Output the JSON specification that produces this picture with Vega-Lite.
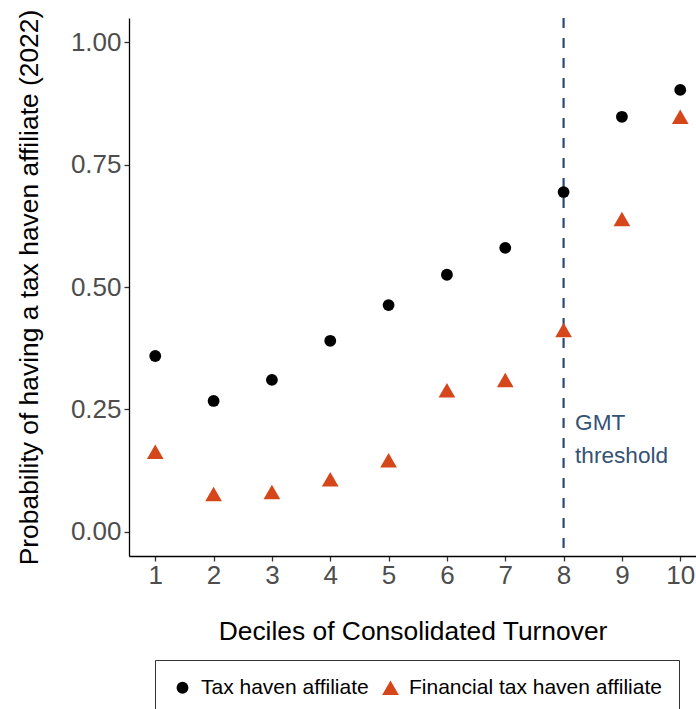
{
  "$schema": "https://vega.github.io/schema/vega-lite/v6.json",
  "autosize": "none",
  "width": 567,
  "height": 538,
  "padding": {"left": 129, "top": 18, "right": 0, "bottom": 153},
  "background": "white",
  "datasets": {
    "pts": [
      {"decile": 1, "prob": 0.359, "series": "Tax haven affiliate"},
      {"decile": 2, "prob": 0.267, "series": "Tax haven affiliate"},
      {"decile": 3, "prob": 0.310, "series": "Tax haven affiliate"},
      {"decile": 4, "prob": 0.390, "series": "Tax haven affiliate"},
      {"decile": 5, "prob": 0.463, "series": "Tax haven affiliate"},
      {"decile": 6, "prob": 0.525, "series": "Tax haven affiliate"},
      {"decile": 7, "prob": 0.580, "series": "Tax haven affiliate"},
      {"decile": 8, "prob": 0.694, "series": "Tax haven affiliate"},
      {"decile": 9, "prob": 0.848, "series": "Tax haven affiliate"},
      {"decile": 10, "prob": 0.903, "series": "Tax haven affiliate"},
      {"decile": 1, "prob": 0.163, "series": "Financial tax haven affiliate"},
      {"decile": 2, "prob": 0.077, "series": "Financial tax haven affiliate"},
      {"decile": 3, "prob": 0.081, "series": "Financial tax haven affiliate"},
      {"decile": 4, "prob": 0.107, "series": "Financial tax haven affiliate"},
      {"decile": 5, "prob": 0.146, "series": "Financial tax haven affiliate"},
      {"decile": 6, "prob": 0.289, "series": "Financial tax haven affiliate"},
      {"decile": 7, "prob": 0.310, "series": "Financial tax haven affiliate"},
      {"decile": 8, "prob": 0.412, "series": "Financial tax haven affiliate"},
      {"decile": 9, "prob": 0.639, "series": "Financial tax haven affiliate"},
      {"decile": 10, "prob": 0.848, "series": "Financial tax haven affiliate"}
    ],
    "ann": [
      {"decile": 8, "prob": 0.2077, "label": "GMT\nthreshold"}
    ]
  },
  "layer": [
    {
      "data": {"name": "ann"},
      "mark": {"type": "rule", "color": "#2C4A70", "strokeWidth": 2.2, "strokeDash": [10, 10]},
      "encoding": {
        "x": {"field": "decile", "type": "quantitative", "scale": {"domain": [0.55, 10.27], "nice": false, "zero": false}}
      }
    },
    {
      "data": {"name": "ann"},
      "mark": {"type": "text", "align": "left", "baseline": "alphabetic", "dx": 11.5, "fontSize": 22.6, "lineBreak": "\n", "lineHeight": 33, "color": "#345274", "font": "Liberation Sans"},
      "encoding": {
        "x": {"field": "decile", "type": "quantitative"},
        "y": {"field": "prob", "type": "quantitative"},
        "text": {"field": "label"}
      }
    },
    {
      "data": {"name": "pts"},
      "mark": {"type": "point", "filled": true, "opacity": 1, "strokeWidth": 0},
      "encoding": {
        "x": {
          "field": "decile", "type": "quantitative",
          "scale": {"domain": [0.55, 10.27], "nice": false, "zero": false},
          "axis": {"values": [1, 2, 3, 4, 5, 6, 7, 8, 9, 10], "format": "d", "title": "Deciles of Consolidated Turnover"}
        },
        "y": {
          "field": "prob", "type": "quantitative",
          "scale": {"domain": [-0.05, 1.05], "nice": false, "zero": false},
          "axis": {"values": [0, 0.25, 0.5, 0.75, 1], "format": ".2f", "title": "Probability of having a tax haven affiliate (2022)"}
        },
        "color": {
          "field": "series", "type": "ordinal",
          "scale": {"domain": ["Tax haven affiliate", "Financial tax haven affiliate"], "range": ["#000000", "#D6461B"]},
          "legend": {"title": null}
        },
        "shape": {
          "field": "series", "type": "ordinal",
          "scale": {"domain": ["Tax haven affiliate", "Financial tax haven affiliate"], "range": ["circle", "triangle-up"]},
          "legend": {"title": null}
        },
        "size": {
          "field": "series", "type": "ordinal",
          "scale": {"domain": ["Tax haven affiliate", "Financial tax haven affiliate"], "range": [140, 280]},
          "legend": {"title": null}
        }
      }
    }
  ],
  "config": {
    "view": {"stroke": null},
    "font": "Liberation Sans",
    "axis": {
      "grid": false,
      "domainColor": "#000000",
      "domainWidth": 1.3,
      "tickColor": "#333333",
      "tickWidth": 1.3,
      "tickSize": 5,
      "labelFont": "Liberation Sans",
      "labelFontSize": 26,
      "labelColor": "#4D4D4D",
      "labelPadding": 3,
      "titleFont": "Liberation Sans",
      "titleFontSize": 26.4,
      "titleFontWeight": "normal",
      "titleColor": "#000000"
    },
    "axisX": {"titlePadding": 30, "labelPadding": 1, "labelFlush": false},
    "axisY": {"titlePadding": 27},
    "legend": {
      "orient": "none",
      "legendX": 26,
      "legendY": 642,
      "direction": "horizontal",
      "strokeColor": "#333333",
      "strokeWidth": 1,
      "padding": 17,
      "labelFont": "Liberation Sans",
      "labelFontSize": 21,
      "labelColor": "#000000",
      "labelOffset": 8,
      "labelLimit": 0,
      "columnPadding": 11,
      "symbolStrokeWidth": 0
    }
  }
}
